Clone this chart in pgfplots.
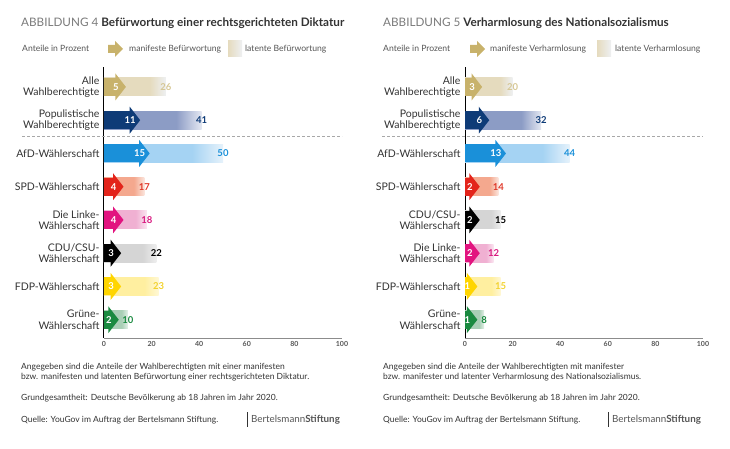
\documentclass[border=0pt]{standalone}
\usepackage{fontspec}
\setmainfont{Lato}
\usepackage{pgfplots}
\pgfplotsset{compat=1.18}

\definecolor{cText}{HTML}{333333}
\definecolor{cTitleGray}{HTML}{7A7A7A}
\definecolor{cLeg}{HTML}{555555}
\definecolor{cTick}{HTML}{555555}
\definecolor{cAxis}{HTML}{8C8C8C}
\definecolor{cDash}{HTML}{A8A8A8}

\definecolor{mAlle}{HTML}{C8B26B}\definecolor{lAlle}{HTML}{E5DBBE}\definecolor{fAlle}{HTML}{EEF0F2}\definecolor{tAlle}{HTML}{D6C795}
\definecolor{mPop}{HTML}{0E3B77}\definecolor{lPop}{HTML}{8C9CC5}\definecolor{fPop}{HTML}{E4E8F2}\definecolor{tPop}{HTML}{0E3B77}
\definecolor{mAfD}{HTML}{1A90D9}\definecolor{lAfD}{HTML}{A5D3F3}\definecolor{fAfD}{HTML}{E6F2FB}\definecolor{tAfD}{HTML}{1A90D9}
\definecolor{mSPD}{HTML}{E3241B}\definecolor{lSPD}{HTML}{F4A88E}\definecolor{fSPD}{HTML}{FBE6DE}\definecolor{tSPD}{HTML}{E0392A}
\definecolor{mLinke}{HTML}{E2137F}\definecolor{lLinke}{HTML}{F0B0D2}\definecolor{fLinke}{HTML}{FAE6F1}\definecolor{tLinke}{HTML}{D8197F}
\definecolor{mCDU}{HTML}{000000}\definecolor{lCDU}{HTML}{D5D5D5}\definecolor{fCDU}{HTML}{EEEEEE}\definecolor{tCDU}{HTML}{000000}
\definecolor{mFDP}{HTML}{FFD500}\definecolor{lFDP}{HTML}{FFEFA0}\definecolor{fFDP}{HTML}{FFF8D6}\definecolor{tFDP}{HTML}{F2D22E}
\definecolor{mGruene}{HTML}{1A8A40}\definecolor{lGruene}{HTML}{A9CFB6}\definecolor{fGruene}{HTML}{E4F0E8}\definecolor{tGruene}{HTML}{1A8A40}

\newcommand{\mkfade}[1]{%
  \pgfdeclarehorizontalshading{fade#1}{100bp}{color(0bp)=(l#1); color(25bp)=(l#1); color(62bp)=(l#1); color(75bp)=(f#1); color(100bp)=(f#1)}}
\mkfade{Alle}\mkfade{Pop}\mkfade{AfD}\mkfade{SPD}\mkfade{Linke}\mkfade{CDU}\mkfade{FDP}\mkfade{Gruene}

\pgfdeclareplotmark{rarrow}{%
  \pgfpathmoveto{\pgfqpoint{-0.5pt}{13.5pt}}%
  \pgfpathlineto{\pgfqpoint{10pt}{0pt}}%
  \pgfpathlineto{\pgfqpoint{-0.5pt}{-13.5pt}}%
  \pgfpathclose\pgfusepathqfill}

\pgfplotsset{
  panel/.style={
    scale only axis, width=238pt, height=271pt, anchor=south west,
    xmin=0, xmax=100, ymin=-0.55, ymax=7.6,
    axis x line*=bottom, axis y line*=left,
    x axis line style={color=cAxis, line width=0.8pt},
    y axis line style={black, line width=1pt},
    xtick={0,20,...,100}, ytick={0,...,7},
    major tick length=0pt,
    /pgf/number format/assume math mode=true,
    xticklabel style={font=\fontsize{7}{8}\selectfont\bfseries, text=cTick},
    yticklabel style={align=right, font=\fontsize{10.5}{11.3}\selectfont, text=cText, xshift=-1pt},
    clip=false,
  },
  latentbar/.style={xbar, bar width=18pt, bar shift=0pt, draw=none, point meta=x,
    nodes near coords,
    every node near coord/.append style={anchor=center, font=\fontsize{9.5}{10}\selectfont\bfseries}},
  bodybar/.style={xbar, bar width=18pt, bar shift=0pt, draw=none, point meta=x,
    nodes near coords,
    every node near coord/.append style={anchor=center, font=\fontsize{9.5}{10}\selectfont\bfseries}},
}

\newcommand{\myrow}[4]{%
  \addplot[latentbar, shading=fade#4, every node near coord/.append style={text=t#4}] coordinates {(#3,#1)};
  \addplot[only marks, mark=rarrow, color=m#4, mark options={fill=m#4, draw=none}] coordinates {(#2,#1)};
  \addplot[bodybar, fill=m#4, every node near coord/.append style={text=white}] coordinates {(#2,#1)};
}

\begin{document}
\begin{tikzpicture}[x=1pt,y=1pt]
\useasboundingbox (0,0) rectangle (730,449);

% ---------- left panel ----------
\node[anchor=base west, inner sep=0pt, font=\fontsize{11.7}{13}\selectfont] at (21,422)
  {\textcolor{cTitleGray}{ABBILDUNG 4}\ \textcolor{cText}{\bfseries Befürwortung einer rechtsgerichteten Diktatur}};
\node[anchor=base west, inner sep=0pt, font=\fontsize{8.6}{9}\selectfont, text=cLeg] at (22,397) {Anteile in Prozent};
\fill[mAlle] (108,396)--(115,396)--(115,392)--(123,400)--(115,408)--(115,404)--(108,404)--cycle;
\node[anchor=base west, inner sep=0pt, font=\fontsize{8.6}{9}\selectfont, text=cLeg] at (129,397) {manifeste Befürwortung};
\shade[left color=lAlle, right color=fAlle] (228,392) rectangle (242,408);
\node[anchor=base west, inner sep=0pt, font=\fontsize{8.6}{9}\selectfont, text=cLeg] at (245,397) {latente Befürwortung};

\begin{axis}[panel, at={(104pt,111pt)},
  yticklabels={{Grüne-\\Wählerschaft},{FDP-Wählerschaft},{CDU/CSU-\\Wählerschaft},{Die Linke-\\Wählerschaft},{SPD-Wählerschaft},{AfD-Wählerschaft},{Populistische\\Wahlberechtigte},{Alle\\Wahlberechtigte}}]
  \myrow{7}{5}{26}{Alle}
  \myrow{6}{11}{41}{Pop}
  \myrow{5}{15}{50}{AfD}
  \myrow{4}{4}{17}{SPD}
  \myrow{3}{4}{18}{Linke}
  \myrow{2}{3}{22}{CDU}
  \myrow{1}{3}{23}{FDP}
  \myrow{0}{2}{10}{Gruene}
\end{axis}
\draw[cDash, dash pattern=on 3pt off 2pt, line width=0.6pt] (22,312.5) -- (342,312.5);

\begin{scope}[every node/.style={anchor=base west, inner sep=0pt, font=\fontsize{8.5}{9}\selectfont, text=cText}]
\node at (21,79.5) {Angegeben sind die Anteile der Wahlberechtigten mit einer manifesten};
\node at (21,69) {bzw. manifesten und latenten Befürwortung einer rechtsgerichteten Diktatur.};
\node at (21,48) {Grundgesamtheit: Deutsche Bevölkerung ab 18 Jahren im Jahr 2020.};
\node at (21,26) {Quelle: YouGov im Auftrag der Bertelsmann Stiftung.};
\node[text=cLeg, font=\fontsize{9.8}{10}\selectfont] at (251,26) {Bertelsmann\textbf{Stiftung}};
\end{scope}
\draw[cText, line width=0.6pt] (247,22) -- (247,37);

% ---------- right panel ----------
\node[anchor=base west, inner sep=0pt, font=\fontsize{11.7}{13}\selectfont] at (383,422)
  {\textcolor{cTitleGray}{ABBILDUNG 5}\ \textcolor{cText}{\bfseries Verharmlosung des Nationalsozialismus}};
\node[anchor=base west, inner sep=0pt, font=\fontsize{8.6}{9}\selectfont, text=cLeg] at (383,397) {Anteile in Prozent};
\fill[mAlle] (470,396)--(477,396)--(477,392)--(485,400)--(477,408)--(477,404)--(470,404)--cycle;
\node[anchor=base west, inner sep=0pt, font=\fontsize{8.6}{9}\selectfont, text=cLeg] at (490,397) {manifeste Verharmlosung};
\shade[left color=lAlle, right color=fAlle] (597,392) rectangle (611,408);
\node[anchor=base west, inner sep=0pt, font=\fontsize{8.6}{9}\selectfont, text=cLeg] at (615,397) {latente Verharmlosung};

\begin{axis}[panel, at={(465pt,111pt)},
  yticklabels={{Grüne-\\Wählerschaft},{FDP-Wählerschaft},{Die Linke-\\Wählerschaft},{CDU/CSU-\\Wählerschaft},{SPD-Wählerschaft},{AfD-Wählerschaft},{Populistische\\Wahlberechtigte},{Alle\\Wahlberechtigte}}]
  \myrow{7}{3}{20}{Alle}
  \myrow{6}{6}{32}{Pop}
  \myrow{5}{13}{44}{AfD}
  \myrow{4}{2}{14}{SPD}
  \myrow{3}{2}{15}{CDU}
  \myrow{2}{2}{12}{Linke}
  \myrow{1}{1}{15}{FDP}
  \myrow{0}{1}{8}{Gruene}
\end{axis}
\draw[cDash, dash pattern=on 3pt off 2pt, line width=0.6pt] (382,312.5) -- (703,312.5);

\begin{scope}[every node/.style={anchor=base west, inner sep=0pt, font=\fontsize{8.5}{9}\selectfont, text=cText}]
\node at (383,79.5) {Angegeben sind die Anteile der Wahlberechtigten mit manifester};
\node at (383,69) {bzw. manifester und latenter Verharmlosung des Nationalsozialismus.};
\node at (383,48) {Grundgesamtheit: Deutsche Bevölkerung ab 18 Jahren im Jahr 2020.};
\node at (383,26) {Quelle: YouGov im Auftrag der Bertelsmann Stiftung.};
\node[text=cLeg, font=\fontsize{9.8}{10}\selectfont] at (612,26) {Bertelsmann\textbf{Stiftung}};
\end{scope}
\draw[cText, line width=0.6pt] (608,22) -- (608,37);
\end{tikzpicture}
\end{document}
